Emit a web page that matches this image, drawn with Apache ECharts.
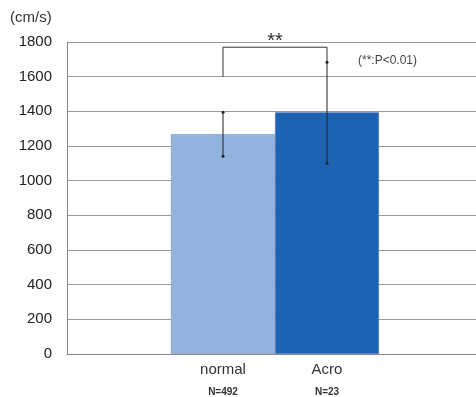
<!DOCTYPE html>
<html lang="en">
<head>
  <meta charset="UTF-8">
  <title>cm/s</title>
  <style>
    body, html { margin: 0; padding: 0; background: #fff; overflow: hidden; }
    /* plot runs past the right edge of the window, as in the original */
    #main { width: 483px; height: 397px; }
  </style>
</head>
<body>
  <div id="main"></div>
  <script src="https://cdn.jsdelivr.net/npm/echarts@6/dist/echarts.min.js"></script>
  <script>
    var categories = ['', 'normal', 'Acro', ''];
    var counts = ['', 'N=492', 'N=23', ''];
    var means = [null, 1268, 1395, null];
    var errLow = [1141, 1101];
    var errHigh = [1395, 1683];
    var barColors = ['#93b3df', '#93b3df', '#1e63b1', '#1e63b1'];

    var myChart = echarts.init(document.getElementById('main'));

    var errData = [[1, errLow[0], errHigh[0]], [2, errLow[1], errHigh[1]]];

    var option = {
      animation: false,
      grid: { left: 67, right: 0, top: 42, bottom: 43 },
      graphic: [
        { type: 'text', left: 10, top: 10, style: { text: '(cm/s)', font: '15px Arial', fill: '#333' } },
        { type: 'text', left: 358, top: 55, style: { text: '(**:P<0.01)', font: '12px Arial', fill: '#444' } }
      ],
      xAxis: {
        type: 'category',
        data: categories,
        axisLine: { lineStyle: { color: '#888' } },
        axisTick: { show: false },
        axisLabel: {
          interval: 0,
          margin: 6,
          formatter: function (v, i) {
            if (!v) return '';
            return '{a|' + v + '}\n{b|' + counts[i] + '}';
          },
          rich: {
            a: { fontSize: 15, color: '#333', fontFamily: 'Arial', lineHeight: 20 },
            b: { fontSize: 10, color: '#333', fontWeight: 'bold', fontFamily: 'Arial', lineHeight: 24 }
          }
        }
      },
      yAxis: {
        type: 'value',
        min: 0,
        max: 1800,
        interval: 200,
        axisLine: { show: true, lineStyle: { color: '#888' } },
        axisTick: { show: false },
        axisLabel: {
          fontSize: 15, color: '#222', fontFamily: 'Arial', margin: 15,
          formatter: function (v) { return String(v); }
        },
        splitLine: { lineStyle: { color: '#999' } }
      },
      series: [
        {
          type: 'bar',
          data: means,
          barWidth: '100%',
          itemStyle: {
            color: function (p) { return barColors[p.dataIndex]; },
            borderColor: '#6a86b0',
            borderWidth: 0.5
          }
        },
        {
          type: 'custom',
          data: errData,
          z: 5,
          renderItem: function (params, api) {
            var lo = api.coord([api.value(0), api.value(1)]);
            var hi = api.coord([api.value(0), api.value(2)]);
            return {
              type: 'group',
              children: [
                { type: 'line', shape: { x1: lo[0], y1: lo[1], x2: hi[0], y2: hi[1] }, style: { stroke: '#222', lineWidth: 1 } },
                { type: 'circle', shape: { cx: lo[0], cy: lo[1], r: 1.5 }, style: { fill: '#222' } },
                { type: 'circle', shape: { cx: hi[0], cy: hi[1], r: 1.5 }, style: { fill: '#222' } }
              ]
            };
          }
        },
        {
          type: 'custom',
          data: [[1, 2, 1600, 1770, 1690]],
          z: 5,
          renderItem: function (params, api) {
            var a = api.coord([api.value(0), api.value(2)]);
            var t = api.coord([api.value(0), api.value(3)]);
            var b = api.coord([api.value(1), api.value(4)]);
            return {
              type: 'group',
              children: [
                { type: 'polyline', shape: { points: [a, [a[0], t[1]], [b[0], t[1]], b] }, style: { stroke: '#333', lineWidth: 1, fill: null } },
                { type: 'text', style: { text: '**', x: (a[0] + b[0]) / 2, y: t[1] + 4, align: 'center', verticalAlign: 'bottom', font: '20px Arial', fill: '#333' } }
              ]
            };
          }
        }
      ]
    };

    myChart.setOption(option);
  </script>
</body>
</html>
